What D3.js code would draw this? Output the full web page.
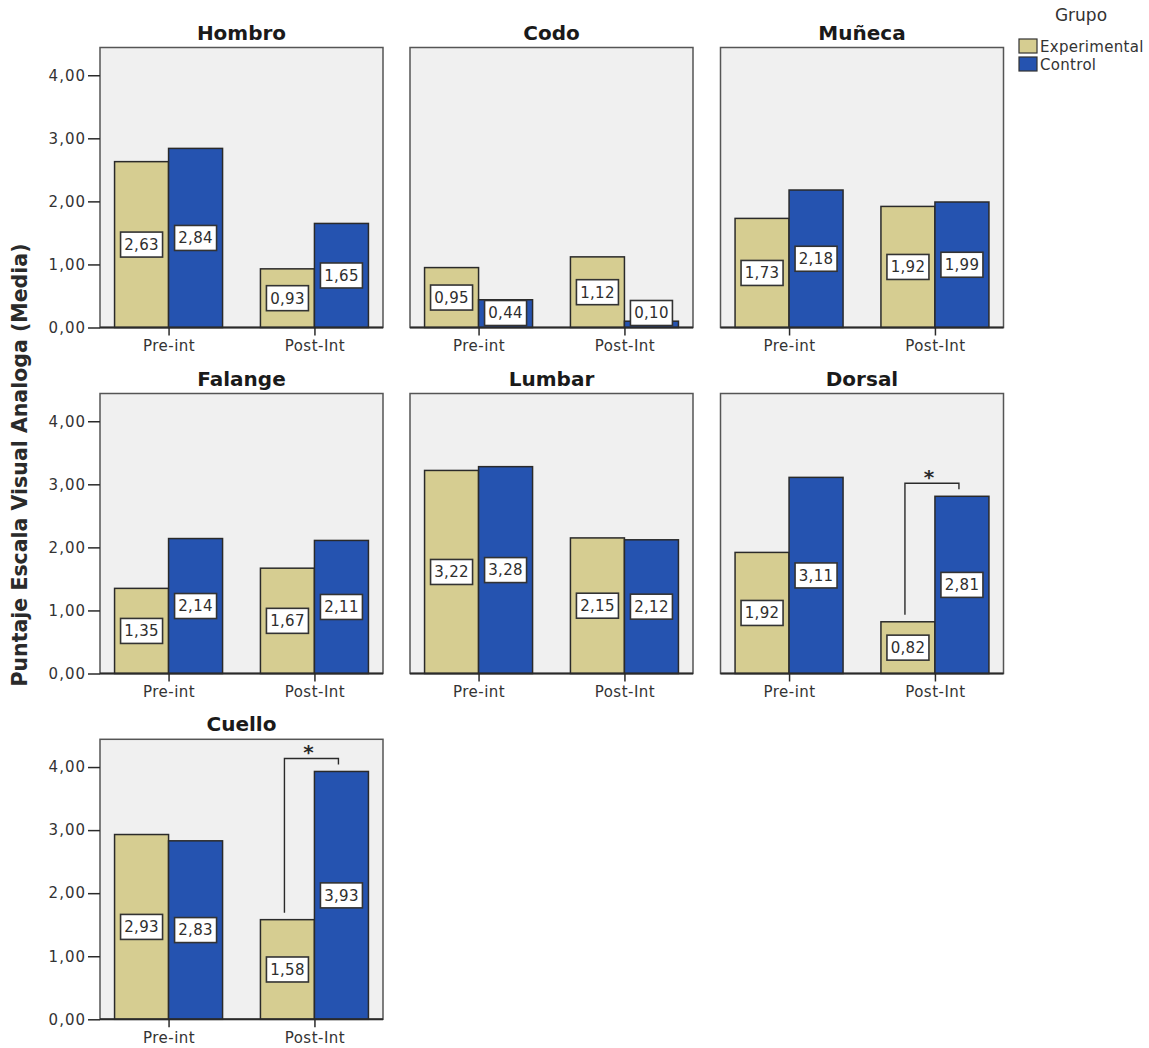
<!DOCTYPE html>
<html>
<head>
<meta charset="utf-8">
<script src="https://cdn.jsdelivr.net/npm/d3@7"></script>
<style>
  html, body { margin: 0; padding: 0; background: #ffffff; }
  svg { display: block; font-family: "DejaVu Sans", Verdana, sans-serif; }
</style>
</head>
<body>
<svg id="chart" width="1149" height="1048"></svg>
<script>
// Body regions shown in the small multiples, in reading order
const regions = ["Hombro", "Codo", "Muñeca", "Falange", "Lumbar", "Dorsal", "Cuello"];
const phases = ["Pre-int", "Post-Int"];
const groups = ["Experimental", "Control"];

// Mean VAS score per region: [Pre-int, Post-Int]
const experimental = [
  [2.63, 0.93],
  [0.95, 1.12],
  [1.73, 1.92],
  [1.35, 1.67],
  [3.22, 2.15],
  [1.92, 0.82],
  [2.93, 1.58]
];
const control = [
  [2.84, 1.65],
  [0.44, 0.10],
  [2.18, 1.99],
  [2.14, 2.11],
  [3.28, 2.12],
  [3.11, 2.81],
  [2.83, 3.93]
];

const yTicks = [0, 1, 2, 3, 4];

// Comparisons marked as significant
const significant = [
  { region: "Dorsal", phase: "Post-Int" },
  { region: "Cuello", phase: "Post-Int" }
];

const colors = { Experimental: "#d6cd91", Control: "#2553b0" };
const fmt = v => v.toFixed(2).replace(".", ",");

const svg = d3.select("#chart");

// Panel grid
const panelW = 283, panelH = 280;
const colX = [100, 410, 720.5];
const rowY = [47.5, 393.5, 739.3];

const y = d3.scaleLinear().domain([0, 4.44]).range([panelH, 0]);
const x = d3.scalePoint().domain(phases).range([0, panelW]).padding(0.47);
const xg = d3.scaleBand().domain(groups).range([-54, 54]);

regions.forEach((region, i) => {
  const col = i % 3, row = Math.floor(i / 3);
  const g = svg.append("g").attr("transform", `translate(${colX[col]},${rowY[row]})`);

  // plot area
  g.append("rect")
    .attr("width", panelW).attr("height", panelH)
    .attr("fill", "#f0f0f0").attr("stroke", "#555").attr("stroke-width", 1.5);

  // title
  g.append("text")
    .attr("x", panelW / 2).attr("y", -8)
    .attr("text-anchor", "middle")
    .attr("font-size", 20).attr("font-weight", "bold").attr("fill", "#1a1a1a")
    .text(region);

  const rows = [];
  phases.forEach((p, j) => {
    rows.push({ phase: p, group: "Experimental", value: experimental[i][j] });
    rows.push({ phase: p, group: "Control", value: control[i][j] });
  });

  // bars
  g.selectAll("rect.bar").data(rows).join("rect")
    .attr("class", "bar")
    .attr("x", d => x(d.phase) + xg(d.group))
    .attr("y", d => y(d.value))
    .attr("width", xg.bandwidth())
    .attr("height", d => panelH - y(d.value))
    .attr("fill", d => colors[d.group])
    .attr("stroke", "#2a2a2a").attr("stroke-width", 1.5);

  // value labels
  const bw = 42, bh = 25;
  const lab = g.selectAll("g.lab").data(rows).join("g")
    .attr("class", "lab")
    .attr("transform", d => {
      const cx = x(d.phase) + xg(d.group) + xg.bandwidth() / 2;
      const cy = Math.min(y(d.value / 2), panelH - 2 - bh / 2);
      return `translate(${cx},${cy})`;
    });
  lab.append("rect")
    .attr("x", -bw / 2).attr("y", -bh / 2).attr("width", bw).attr("height", bh)
    .attr("fill", "#ffffff").attr("stroke", "#333").attr("stroke-width", 1.6);
  lab.append("text")
    .attr("text-anchor", "middle").attr("dy", "0.36em")
    .attr("font-size", 15).attr("letter-spacing", "0.3px").attr("fill", "#2e2e2e")
    .text(d => fmt(d.value));

  // x axis
  const xAxis = g.append("g").attr("transform", `translate(0,${panelH})`)
    .call(d3.axisBottom(x).tickSize(8).tickPadding(5));
  xAxis.select(".domain").remove();
  xAxis.selectAll(".tick line").attr("stroke", "#2a2a2a").attr("stroke-width", 1.5);
  xAxis.selectAll(".tick text")
    .attr("font-size", 15).attr("letter-spacing", "0.5px").attr("fill", "#333")
    .attr("font-family", "DejaVu Sans, sans-serif");

  g.append("line")
    .attr("x1", 0).attr("x2", panelW).attr("y1", panelH).attr("y2", panelH)
    .attr("stroke", "#2a2a2a").attr("stroke-width", 2);

  // y axis on the first column only
  if (col === 0) {
    const yAxis = g.append("g")
      .call(d3.axisLeft(y).tickValues(yTicks).tickFormat(fmt).tickSize(12).tickPadding(2));
    yAxis.select(".domain").remove();
    yAxis.selectAll(".tick line").attr("stroke", "#2a2a2a").attr("stroke-width", 1.5);
    yAxis.selectAll(".tick text")
      .attr("font-size", 15).attr("letter-spacing", "1px").attr("fill", "#333")
      .attr("font-family", "DejaVu Sans, sans-serif");
  }

  // significance brackets
  significant.filter(s => s.region === region).forEach(s => {
    const j = phases.indexOf(s.phase);
    const ve = experimental[i][j], vc = control[i][j];
    const xL = x(s.phase) + xg("Experimental") + xg.bandwidth() / 2 - 3;
    const xR = x(s.phase) + xg("Control") + xg.bandwidth() / 2 - 3;
    const yTop = y(Math.max(ve, vc)) - 13;
    g.append("path")
      .attr("d", `M${xL},${y(ve) - 7}V${yTop}H${xR}V${y(vc) - 7}`)
      .attr("fill", "none").attr("stroke", "#2a2a2a").attr("stroke-width", 1.4);
    g.append("text")
      .attr("x", (xL + xR) / 2 - 3).attr("y", yTop + 1)
      .attr("text-anchor", "middle").attr("font-size", 20).attr("font-weight", "bold")
      .attr("fill", "#2a2a2a")
      .text("*");
  });
});

// shared y-axis title
svg.append("text")
  .attr("transform", "translate(27,465) rotate(-90)")
  .attr("text-anchor", "middle")
  .attr("font-size", 20.5).attr("font-weight", "bold").attr("fill", "#2a2a2a")
  .text("Puntaje Escala Visual Analoga (Media)");

// legend
const legend = svg.append("g");
legend.append("text")
  .attr("x", 1081).attr("y", 21).attr("text-anchor", "middle")
  .attr("font-size", 17).attr("fill", "#333")
  .text("Grupo");
groups.forEach((grp, k) => {
  legend.append("rect")
    .attr("x", 1019).attr("y", 39 + k * 18).attr("width", 18).attr("height", 14)
    .attr("fill", colors[grp]).attr("stroke", "#333").attr("stroke-width", 1.2);
  legend.append("text")
    .attr("x", 1040).attr("y", 52 + k * 18)
    .attr("font-size", 15).attr("letter-spacing", "0.3px").attr("fill", "#333")
    .text(grp);
});
</script>
</body>
</html>
